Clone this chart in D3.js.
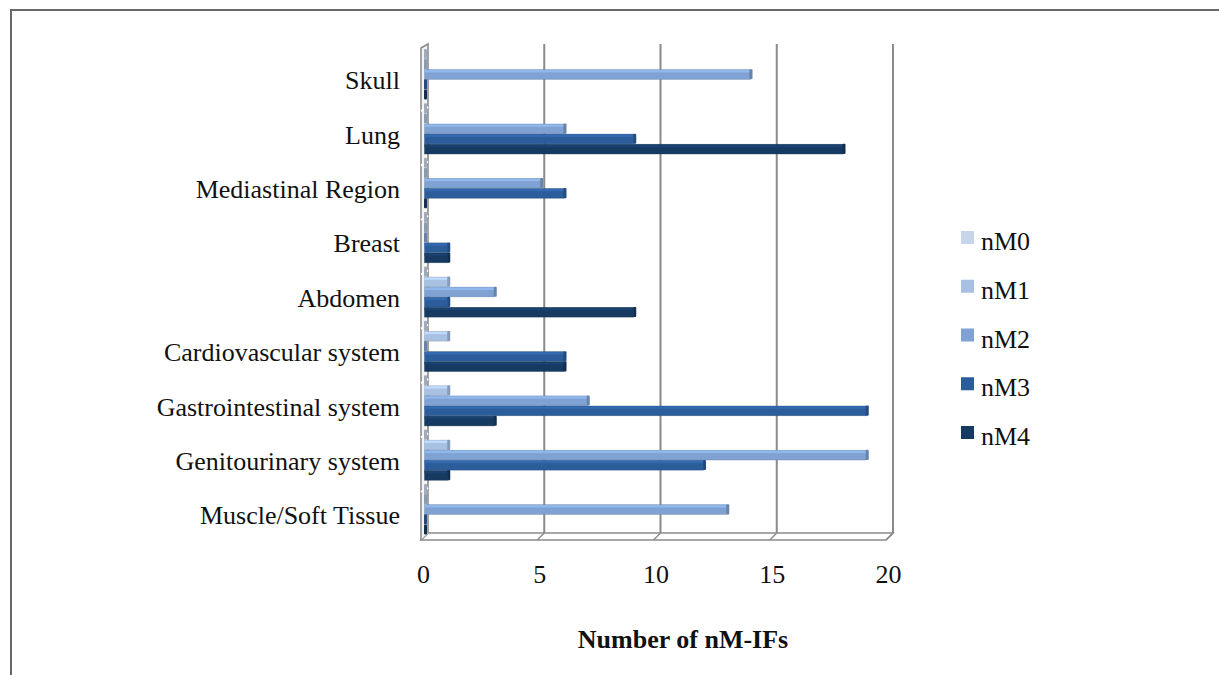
<!DOCTYPE html>
<html>
<head>
<meta charset="utf-8">
<script src="https://cdn.jsdelivr.net/npm/d3@7"></script>
<style>
  html, body { margin: 0; padding: 0; background: #ffffff; }
  svg { display: block; }
  text { font-family: "Liberation Serif", "Times New Roman", serif; fill: #111; }
</style>
</head>
<body>
<svg id="chart" width="1219" height="675"></svg>
<script>
// Incidental findings per body region, split by nM grade
const categories = [
  "Skull", "Lung", "Mediastinal Region", "Breast", "Abdomen",
  "Cardiovascular system", "Gastrointestinal system",
  "Genitourinary system", "Muscle/Soft Tissue"
];
const seriesNames = ["nM0", "nM1", "nM2", "nM3", "nM4"];
const nM0 = [0, 0, 0, 0, 0, 0, 0, 0, 0];
const nM1 = [0, 0, 0, 0, 1, 1, 1, 1, 0];
const nM2 = [14, 6, 5, 0, 3, 0, 7, 19, 13];
const nM3 = [0, 9, 6, 1, 1, 6, 19, 12, 0];
const nM4 = [0, 18, 0, 1, 9, 6, 3, 1, 0];
const xTicks = [0, 5, 10, 15, 20];
const seriesColors = ["#c6d5ea", "#a8c0e1", "#7fa2d2", "#2c5d9b", "#173a63"];
const axisTitle = "Number of nM-IFs";

const seriesValues = [nM0, nM1, nM2, nM3, nM4];

const svg = d3.select("#chart");

// outer frame
svg.append("path")
  .attr("d", "M11,675 L11,10 L1219,10")
  .attr("fill", "none")
  .attr("stroke", "#686868")
  .attr("stroke-width", 2);

// scales
const x = d3.scaleLinear().domain([0, 20]).range([424.5, 889.5]);
const y = d3.scaleBand().domain(categories).range([53.8, 543.2]).padding(0);
const slot = d3.scaleBand().domain(seriesNames).range([0, 51]).padding(0.04);

// depth of the pseudo-3D box
const dx = 3.5, dy = -3.5;
const backTop = 44, backBottom = 533, frontBottom = 540;

const plot = svg.append("g");

// floor
plot.append("path")
  .attr("d", `M${x(0) - dx},${frontBottom} L${x(20) - dx},${frontBottom} L${x(20) + dx},${backBottom} L${x(0) + dx},${backBottom} Z`)
  .attr("fill", "#ffffff")
  .attr("stroke", "#8c8c8c")
  .attr("stroke-width", 1.6);

// floor ticks
plot.selectAll("line.floortick")
  .data(xTicks)
  .join("line")
  .attr("class", "floortick")
  .attr("x1", d => x(d) - dx).attr("y1", frontBottom)
  .attr("x2", d => x(d) + dx).attr("y2", backBottom)
  .attr("stroke", "#8c8c8c")
  .attr("stroke-width", 1.4);

// back-wall gridlines
plot.selectAll("line.grid")
  .data(xTicks.filter(d => d > 0))
  .join("line")
  .attr("class", "grid")
  .attr("x1", d => x(d) + dx).attr("x2", d => x(d) + dx)
  .attr("y1", backTop).attr("y2", backBottom)
  .attr("stroke", "#8a8a8a")
  .attr("stroke-width", 2);

// left wall
plot.append("path")
  .attr("d", `M${x(0) - dx},${frontBottom} L${x(0) - dx},${backTop + 4} L${x(0) + dx},${backTop} L${x(0) + dx},${backBottom}`)
  .attr("fill", "#f4f4f4")
  .attr("stroke", "#8c8c8c")
  .attr("stroke-width", 1.6);

// category ticks on the wall
plot.selectAll("line.walltick")
  .data(categories.slice(1))
  .join("line")
  .attr("class", "walltick")
  .attr("x1", x(0) - dx).attr("x2", x(0) + dx)
  .attr("y1", d => y(d) + 3).attr("y2", d => y(d) - 1)
  .attr("stroke", "#ffffff")
  .attr("stroke-width", 2);

// bars
const barData = [];
categories.forEach((c, ci) => {
  seriesNames.forEach((s, si) => {
    barData.push({ cat: c, series: s, value: seriesValues[si][ci], color: seriesColors[si] });
  });
});

const barG = plot.append("g")
  .selectAll("g.bar")
  .data(barData)
  .join("g")
  .attr("class", "bar")
  .attr("transform", d => `translate(0,${y(d.cat) - 4.8 + slot(d.series)})`);

const h = slot.bandwidth();

barG.append("rect")
  .attr("x", x(0))
  .attr("y", 0)
  .attr("width", d => x(d.value) - x(0))
  .attr("height", h)
  .attr("fill", d => d.color)
  .attr("stroke", d => d3.color(d.color).darker(0.7))
  .attr("stroke-opacity", 0.55)
  .attr("stroke-width", 0.7);

barG.append("rect")
  .attr("x", x(0))
  .attr("y", 0.4)
  .attr("width", d => x(d.value) - x(0))
  .attr("height", 2.4)
  .attr("fill", d => d3.color(d.color).brighter(0.35));

barG.append("rect")
  .attr("x", d => x(d.value) - 0.5)
  .attr("y", -0.5)
  .attr("width", 3)
  .attr("height", h + 0.5)
  .attr("rx", 1)
  .attr("fill", d => d3.color(d.color).darker(0.6));

// category axis
const yAxis = svg.append("g")
  .attr("transform", "translate(409,0)")
  .call(d3.axisLeft(y).tickSize(0).tickPadding(9));
yAxis.select(".domain").remove();
yAxis.selectAll("text")
  .style("font-family", '"Liberation Serif", "Times New Roman", serif')
  .style("font-size", "26px")
  .attr("fill", "#111");

// value axis labels
const xAxis = svg.append("g")
  .attr("transform", "translate(-1.5,560)")
  .call(d3.axisBottom(x).tickValues(xTicks).tickSize(0).tickPadding(4.5).tickFormat(d3.format("d")));
xAxis.select(".domain").remove();
xAxis.selectAll("text")
  .style("font-family", '"Liberation Serif", "Times New Roman", serif')
  .style("font-size", "26px")
  .attr("fill", "#111");

// axis title
svg.append("text")
  .attr("x", 683)
  .attr("y", 648)
  .attr("text-anchor", "middle")
  .style("font-size", "26px")
  .style("font-weight", "bold")
  .text(axisTitle);

// legend
const legend = svg.append("g")
  .selectAll("g.item")
  .data(seriesNames)
  .join("g")
  .attr("class", "item")
  .attr("transform", (d, i) => `translate(961,${250 + i * 48.75})`);

legend.append("rect")
  .attr("x", 0).attr("y", -19)
  .attr("width", 13).attr("height", 13)
  .attr("fill", (d, i) => seriesColors[i]);

legend.append("text")
  .attr("x", 20).attr("y", 0)
  .style("font-size", "26px")
  .text(d => d);
</script>
</body>
</html>
